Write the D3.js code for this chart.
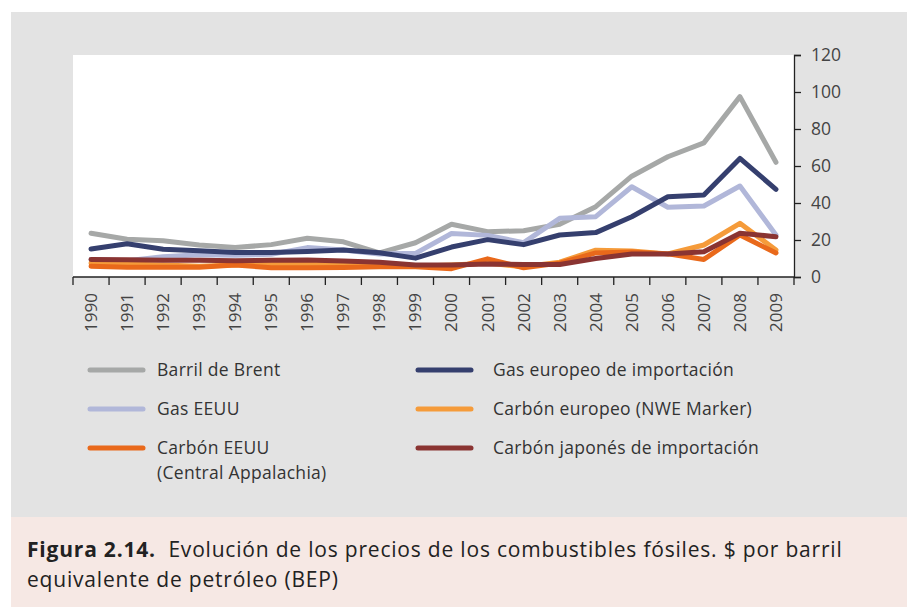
<!DOCTYPE html>
<html>
<head>
<meta charset="utf-8">
<script src="https://cdn.jsdelivr.net/npm/d3@7"></script>
<style>
  body { margin: 0; background: #fff; }
  text { font-family: "Open Sans", sans-serif; }
</style>
</head>
<body>
<div id="chart"></div>
<script>
// Precios de combustibles fósiles, $ por barril equivalente de petróleo
const years = d3.range(1990, 2010)
const yTicks = [0, 20, 40, 60, 80, 100, 120]

const brent      = [23.6, 20.4, 19.6, 17.3, 15.9, 17.5, 20.9, 19.0, 13.0, 18.5, 28.5, 24.5, 25.0, 28.5, 38.0, 54.5, 65.0, 72.5, 97.5, 62.0]
const gasEuropa  = [15.1, 18.0, 15.0, 14.2, 13.3, 13.3, 13.8, 14.6, 13.1, 10.2, 16.2, 20.2, 17.5, 22.7, 24.0, 32.6, 43.4, 44.3, 64.1, 47.4]
const gasEEUU    = [9.4, 8.8, 11.0, 12.0, 11.8, 12.3, 15.9, 14.6, 12.4, 12.8, 23.5, 22.5, 18.6, 31.7, 32.6, 48.8, 37.7, 38.4, 49.2, 22.7]
const carbonEur  = [7.5, 7.0, 6.5, 5.8, 6.5, 7.2, 7.0, 7.0, 6.5, 5.8, 6.5, 7.5, 5.5, 8.0, 14.5, 14.0, 12.5, 17.3, 29.0, 14.6]
const carbonEEUU = [5.8, 5.3, 5.3, 5.3, 6.5, 5.0, 5.0, 5.2, 5.5, 5.5, 4.5, 9.8, 5.0, 7.5, 13.0, 13.5, 12.5, 9.5, 22.7, 13.0]
const carbonJap  = [9.5, 9.3, 9.0, 9.0, 8.8, 9.0, 9.2, 8.7, 8.0, 6.5, 6.5, 7.0, 6.8, 6.8, 10.0, 12.4, 12.4, 13.7, 23.6, 21.8]

const seriesNames  = ["Barril de Brent", "Gas europeo de importación", "Gas EEUU", "Carbón europeo (NWE Marker)", "Carbón EEUU (Central Appalachia)", "Carbón japonés de importación"]
const seriesValues = [brent, gasEuropa, gasEEUU, carbonEur, carbonEEUU, carbonJap]
const colors       = ["#a6a8a7", "#353f6e", "#b1b7d9", "#f59b3a", "#e9691b", "#8a3432"]
const drawOrder    = [0, 2, 1, 3, 4, 5]

const W = 907, H = 607
const svg = d3.select("#chart").append("svg")
    .attr("width", W).attr("height", H)

// paneles de fondo
svg.append("rect").attr("x", 11).attr("y", 12).attr("width", W - 11).attr("height", 505).attr("fill", "#e3e3e3")
svg.append("rect").attr("x", 11).attr("y", 517).attr("width", W - 11).attr("height", H - 517).attr("fill", "#f6e8e4")

const plot = {left: 73, right: 794, top: 55, bottom: 277}

const x = d3.scaleBand().domain(years).range([plot.left, plot.right])
const y = d3.scaleLinear().domain([0, 120]).range([plot.bottom, plot.top])
const cx = d => x(d) + x.bandwidth() / 2

svg.append("rect")
    .attr("x", plot.left).attr("y", plot.top)
    .attr("width", plot.right - plot.left).attr("height", plot.bottom - plot.top)
    .attr("fill", "#fff")

// lineas
const line = d3.line()
    .x((d, i) => cx(years[i]))
    .y(d => y(d))

drawOrder.forEach(k => {
    svg.append("path")
        .attr("d", line(seriesValues[k]))
        .attr("fill", "none")
        .attr("stroke", colors[k])
        .attr("stroke-width", 5)
        .attr("stroke-linejoin", "round")
        .attr("stroke-linecap", "round")
})

// eje x: marcas entre años, etiquetas giradas
const xAxis = svg.append("g").attr("transform", `translate(0,${plot.bottom})`)
xAxis.append("line")
    .attr("x1", plot.left).attr("x2", plot.right)
    .attr("stroke", "#222").attr("stroke-width", 1.3)
xAxis.selectAll("line.tick")
    .data(years.concat([null]))
    .join("line")
    .attr("class", "tick")
    .attr("x1", d => d === null ? plot.right : x(d))
    .attr("x2", d => d === null ? plot.right : x(d))
    .attr("y1", 0).attr("y2", 8)
    .attr("stroke", "#222").attr("stroke-width", 1.3)
xAxis.selectAll("text")
    .data(years)
    .join("text")
    .attr("transform", d => `translate(${cx(d)},16) rotate(-90)`)
    .attr("text-anchor", "end")
    .attr("dy", "0.35em")
    .attr("font-size", 17)
    .attr("fill", "#444")
    .text(d => d)

// eje y a la derecha
const yAxis = svg.append("g")
    .attr("transform", `translate(${plot.right},0)`)
    .call(d3.axisRight(y).tickValues(yTicks).tickSize(7).tickPadding(10))
yAxis.select(".domain").attr("stroke", "#222").attr("stroke-width", 1.3)
yAxis.selectAll(".tick line").attr("stroke", "#222").attr("stroke-width", 1.3)
yAxis.selectAll(".tick text")
    .attr("font-size", 17.5)
    .attr("font-family", "Open Sans, sans-serif")
    .attr("fill", "#444")

// leyenda
const legendCols = [{swatch: 90, text: 157}, {swatch: 418, text: 493}]
const legendRows = [370, 409, 448]
const legend = svg.append("g")
seriesNames.forEach((name, i) => {
    const col = legendCols[i % 2], ly = legendRows[Math.floor(i / 2)]
    legend.append("line")
        .attr("x1", col.swatch).attr("x2", col.swatch + 53)
        .attr("y1", ly).attr("y2", ly)
        .attr("stroke", colors[i]).attr("stroke-width", 5)
        .attr("stroke-linecap", "round")
    const parts = name === "Carbón EEUU (Central Appalachia)" ? ["Carbón EEUU", "(Central Appalachia)"] : [name]
    const t = legend.append("text")
        .attr("y", ly)
        .attr("font-size", 17.5)
        .attr("letter-spacing", 0.3)
        .attr("fill", "#333")
    parts.forEach((p, j) => {
        t.append("tspan")
            .attr("x", col.text)
            .attr("dy", j === 0 ? "0.35em" : 25)
            .text(p)
    })
})

// pie de figura
const caption = svg.append("g").attr("font-size", 21).attr("letter-spacing", 0.8).attr("fill", "#222")
const c1 = caption.append("text").attr("x", 27).attr("y", 557)
c1.append("tspan").attr("font-weight", "bold").text("Figura 2.14.")
c1.append("tspan").text("\u00a0 Evolución de los precios de los combustibles fósiles. $ por barril")
caption.append("text").attr("x", 27).attr("y", 587)
    .text("equivalente de petróleo (BEP)")
</script>
</body>
</html>
